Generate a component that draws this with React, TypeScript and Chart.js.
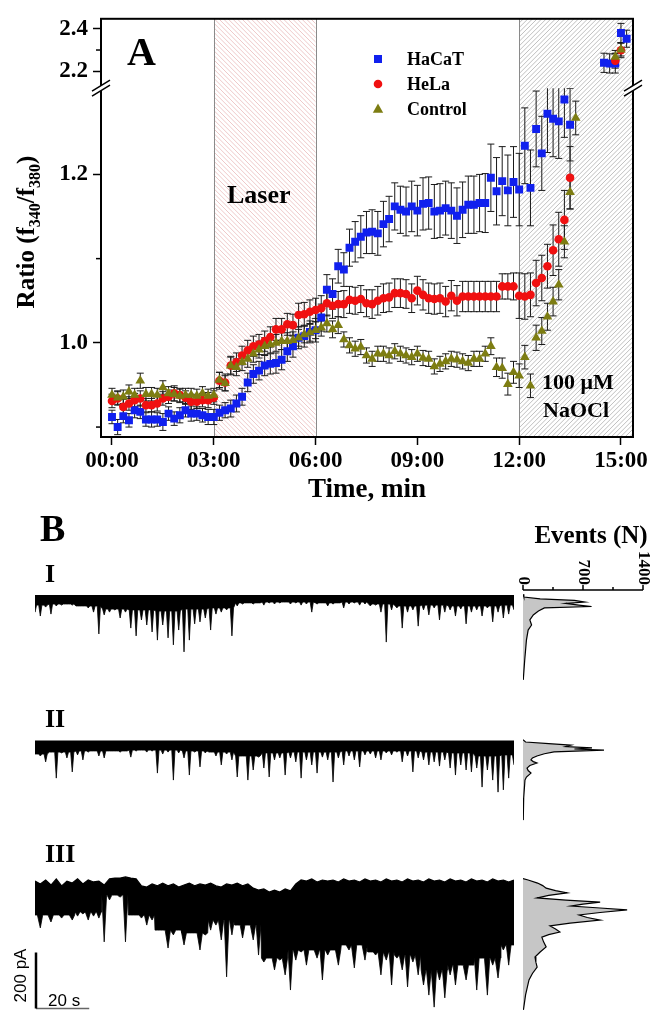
import React, { useEffect, useRef } from 'react';
import { Chart, registerables } from 'chart.js';

Chart.register(...registerables);

const SERIF = "'Liberation Serif', 'Times New Roman', Times, serif";
const SANS = "'Liberation Sans', Arial, Helvetica, sans-serif";

// ================= Panel A data =================
const SAMPLE_MIN = 1 / 6; // one frame every 10 s

const HACAT_MEAN = [
  0.912, 0.900, 0.913, 0.908, 0.920, 0.918, 0.909, 0.909, 0.909, 0.906,
  0.916, 0.910, 0.914, 0.920, 0.916, 0.916, 0.914, 0.912, 0.912, 0.917,
  0.920, 0.922, 0.928, 0.936, 0.953, 0.963, 0.967, 0.973, 0.975, 0.976,
  0.980, 0.990, 0.996, 1.006, 1.008, 1.013, 1.015, 1.030, 1.063, 1.058,
  1.091, 1.087, 1.113, 1.120, 1.126, 1.131, 1.132, 1.130, 1.141, 1.147,
  1.162, 1.158, 1.156, 1.162, 1.157, 1.165, 1.166, 1.156, 1.157, 1.160,
  1.157, 1.151, 1.158, 1.164, 1.164, 1.166, 1.166, 1.196, 1.180, 1.192,
  1.181, 1.191, 1.182, 1.234, 1.184, 1.254, 1.225, 1.272, 1.266, 1.263,
  1.289, 1.259,
];
const HACAT_SEM = [
  0.008, 0.009, 0.008, 0.008, 0.009, 0.008, 0.008, 0.009, 0.008, 0.010,
  0.008, 0.008, 0.009, 0.008, 0.009, 0.008, 0.008, 0.009, 0.009, 0.009,
  0.009, 0.010, 0.010, 0.010, 0.011, 0.011, 0.011, 0.012, 0.012, 0.012,
  0.012, 0.012, 0.013, 0.013, 0.013, 0.013, 0.014, 0.016, 0.018, 0.018,
  0.020, 0.020, 0.022, 0.024, 0.025, 0.025, 0.026, 0.026, 0.027, 0.027,
  0.028, 0.028, 0.029, 0.030, 0.030, 0.031, 0.031, 0.032, 0.032, 0.032,
  0.033, 0.033, 0.033, 0.034, 0.034, 0.034, 0.035, 0.040, 0.040, 0.041,
  0.042, 0.042, 0.043, 0.045, 0.045, 0.045, 0.044, 0.046, 0.045, 0.044,
  0.045, 0.043,
];
const HELA_MEAN = [
  0.931, 0.934, 0.924, 0.928, 0.932, 0.934, 0.926, 0.926, 0.928, 0.934,
  0.936, 0.940, 0.938, 0.935, 0.930, 0.930, 0.932, 0.932, 0.935, 0.955,
  0.953, 0.973, 0.977, 0.985, 0.991, 0.996, 0.998, 1.002, 1.007, 1.016,
  1.016, 1.022, 1.021, 1.033, 1.034, 1.037, 1.039, 1.041, 1.047, 1.044,
  1.046, 1.046, 1.051, 1.050, 1.052, 1.047, 1.046, 1.050, 1.053, 1.054,
  1.059, 1.059, 1.058, 1.053, 1.062, 1.057, 1.053, 1.052, 1.053, 1.049,
  1.056, 1.050, 1.055, 1.055, 1.055, 1.055, 1.055, 1.055, 1.055, 1.067,
  1.067, 1.067, 1.056, 1.055, 1.057, 1.071, 1.077, 1.091, 1.110, 1.123,
  1.146, 1.196,
];
const HELA_SEM = [
  0.008, 0.008, 0.009, 0.008, 0.008, 0.009, 0.008, 0.008, 0.009, 0.008,
  0.008, 0.009, 0.008, 0.008, 0.009, 0.008, 0.008, 0.009, 0.008, 0.010,
  0.010, 0.011, 0.011, 0.011, 0.012, 0.012, 0.012, 0.012, 0.012, 0.013,
  0.013, 0.013, 0.013, 0.014, 0.014, 0.014, 0.014, 0.015, 0.015, 0.015,
  0.015, 0.016, 0.016, 0.016, 0.016, 0.016, 0.017, 0.017, 0.017, 0.017,
  0.017, 0.017, 0.017, 0.017, 0.017, 0.018, 0.018, 0.018, 0.018, 0.018,
  0.018, 0.018, 0.018, 0.018, 0.018, 0.018, 0.018, 0.018, 0.018, 0.015,
  0.015, 0.016, 0.027, 0.027, 0.026, 0.027, 0.027, 0.026, 0.030, 0.032,
  0.035, 0.037,
];
const CONTROL_MEAN = [
  0.938, 0.935, 0.936, 0.942, 0.938, 0.955, 0.939, 0.939, 0.938, 0.947,
  0.940, 0.939, 0.937, 0.938, 0.938, 0.937, 0.940, 0.937, 0.938, 0.956,
  0.952, 0.973, 0.971, 0.977, 0.981, 0.987, 0.992, 0.996, 0.998, 1.000,
  1.002, 1.002, 1.003, 1.006, 1.010, 1.012, 1.015, 1.018, 1.023, 1.016,
  1.021, 1.004, 0.997, 0.993, 0.995, 0.985, 0.981, 0.987, 0.987, 0.985,
  0.990, 0.987, 0.985, 0.983, 0.987, 0.982, 0.981, 0.972, 0.975, 0.978,
  0.981, 0.980, 0.978, 0.976, 0.981, 0.981, 0.987, 0.996, 0.971, 0.970,
  0.951, 0.965, 0.961, 0.983, 0.949, 1.006, 1.014, 1.031, 1.049, 1.069,
  1.120, 1.179, 1.267,
];
const CONTROL_SEM = [
  0.008, 0.008, 0.008, 0.008, 0.008, 0.009, 0.008, 0.008, 0.008, 0.008,
  0.008, 0.008, 0.008, 0.008, 0.008, 0.008, 0.008, 0.008, 0.008, 0.009,
  0.009, 0.010, 0.010, 0.010, 0.010, 0.010, 0.010, 0.010, 0.010, 0.010,
  0.010, 0.010, 0.010, 0.010, 0.010, 0.010, 0.010, 0.010, 0.010, 0.010,
  0.010, 0.009, 0.009, 0.009, 0.009, 0.009, 0.009, 0.009, 0.009, 0.009,
  0.009, 0.009, 0.009, 0.009, 0.009, 0.009, 0.009, 0.009, 0.009, 0.009,
  0.009, 0.009, 0.009, 0.009, 0.009, 0.009, 0.009, 0.010, 0.011, 0.012,
  0.013, 0.013, 0.014, 0.014, 0.014, 0.015, 0.016, 0.016, 0.017, 0.018,
  0.019, 0.020, 0.020,
];

const HACAT_LATE_START = 14.5;
const HACAT_LATE_MEAN = [2.240, 2.237, 2.237, 2.380, 2.353];
const HACAT_LATE_SEM = [0.045, 0.045, 0.045, 0.045, 0.040];
const HELA_LATE_START = 14 + 5 / 6;
const HELA_LATE_MEAN = [2.250, 2.299];
const HELA_LATE_SEM = [0.035, 0.035];
const CONTROL_LATE_START = 14 + 5 / 6;
const CONTROL_LATE_MEAN = [2.268, 2.302];
const CONTROL_LATE_SEM = [0.030, 0.030];

const SERIES_NAMES = ['HaCaT', 'HeLa', 'Control'];
const TIME_TICKS = [0, 3, 6, 9, 12, 15];
const RATIO_LOW_TICKS = [0.9, 1.0, 1.1, 1.2];
const RATIO_HIGH_TICKS = [2.2, 2.3, 2.4];
const RATIO_LABELED = [1.0, 1.2, 2.2, 2.4];
const LASER_START = 3;
const LASER_END = 6;
const NAOCL_START = 12;

// ================= Panel B data =================
const TRACE_STEP_S = 2; // spike envelope sampling
const BODY_STEP_S = 10; // dense-noise body sampling
const TRACE_SPAN_S = 180;
// trace I: spike extremes (pA), dense body lower edge (pA), upper noise level (pA)
const TRACE_I_LOW = [
  -54, -68, -36, -61, -32, -29, -25, -29, -32, -25,
  -39, -54, -132, -64, -54, -46, -75, -54, -111, -139,
  -82, -100, -125, -154, -100, -146, -171, -118, -196, -154,
  -96, -89, -75, -118, -61, -54, -46, -139, -32, -25,
  -21, -25, -21, -29, -21, -25, -21, -18, -25, -21,
  -29, -25, -54, -25, -21, -32, -25, -21, -39, -25,
  -21, -29, -25, -32, -29, -54, -161, -46, -39, -111,
  -54, -46, -104, -46, -64, -39, -82, -54, -46, -68,
  -43, -96, -54, -46, -68, -39, -89, -54, -75, -61,
  -46,
];
const TRACE_I_BODY = [-29, -25, -32, -43, -46, -50, -43, -39, -21, -18, -18, -21, -18, -25, -32, -29, -32, -32, -29];
const TRACE_I_TOP = 7;
const TRACE_II_LOW = [
  -36, -50, -71, -36, -129, -39, -57, -107, -46, -64,
  -36, -32, -50, -57, -32, -29, -36, -29, -54, -32,
  -29, -36, -32, -111, -43, -36, -136, -39, -57, -118,
  -36, -89, -39, -36, -50, -82, -43, -64, -125, -50,
  -136, -100, -54, -93, -125, -64, -57, -118, -57, -71,
  -129, -64, -82, -111, -54, -64, -143, -57, -82, -50,
  -64, -89, -46, -43, -57, -64, -39, -46, -36, -71,
  -50, -107, -57, -64, -82, -71, -86, -64, -93, -118,
  -82, -100, -107, -93, -161, -100, -136, -179, -171, -129,
  -82,
];
const TRACE_II_BODY = [-43, -36, -32, -32, -29, -29, -32, -36, -50, -39, -36, -36, -32, -32, -32, -36, -39, -50, -46];
const TRACE_II_TOP = 5;
const TRACE_III_TOP = [
  -4, -14, 0, -18, 4, -21, -4, -11, 4, -14,
  0, -7, -4, -18, 4, 7, 7, 11, 7, 4,
  -21, -25, -14, -21, -11, -21, -14, -25, -18, -11,
  -21, -14, -18, -11, -21, -25, -14, -18, -11, -21,
  -14, -29, -36, -32, -43, -36, -43, -32, -39, -14,
  0, -4, 4, -7, 0, -4, 0, -7, 4, -4,
  0, -7, 4, -4, 0, -7, 4, -4, 0, -7,
  4, -4, 0, -7, 4, -4, 0, -7, 4, -4,
  0, -7, 4, -4, 0, -7, 4, -4, 0, -7,
  0,
];
const TRACE_III_LOW = [
  -125, -171, -114, -150, -125, -136, -114, -143, -129, -121,
  -143, -129, -136, -221, -71, -54, -61, -221, -54, -71,
  -136, -161, -143, -171, -179, -243, -196, -179, -232, -186,
  -179, -250, -196, -179, -161, -214, -346, -196, -125, -207,
  -114, -214, -268, -293, -279, -321, -286, -339, -393, -286,
  -257, -304, -250, -279, -357, -268, -232, -304, -221, -250,
  -314, -232, -286, -243, -268, -339, -286, -375, -279, -321,
  -382, -293, -339, -375, -411, -454, -357, -421, -339, -375,
  -286, -357, -304, -393, -279, -411, -304, -350, -250, -304,
  -207,
];
const TRACE_III_BODY = [-125, -125, -114, -54, -125, -179, -189, -143, -161, -279, -250, -250, -232, -257, -268, -321, -304, -279, -232];

// all-points amplitude histograms (current level pA -> number of events)
const HIST_I_LEVEL = [10, 0, -7, -12, -18, -23, -29, -34, -39, -50, -64, -82, -100, -118, -154, -225, -296];
const HIST_I_COUNT = [0, 10, 200, 600, 720, 500, 650, 800, 250, 180, 120, 80, 100, 60, 40, 20, 3];
const HIST_II_LEVEL = [8, 0, -6, -11, -16, -21, -25, -29, -35, -42, -50, -57, -64, -70, -75, -84, -93, -102, -111, -125, -136, -200, -279];
const HIST_II_COUNT = [0, 30, 300, 560, 500, 805, 600, 945, 362, 250, 163, 110, 93, 120, 163, 80, 47, 60, 93, 40, 23, 8, 3];
const HIST_III_LEVEL = [5, 0, -11, -20, -29, -38, -46, -55, -64, -72, -79, -86, -93, -100, -107, -116, -125, -134, -143, -154, -164, -175, -186, -195, -204, -221, -239, -257, -275, -293, -311, -334, -357, -410, -464];
const HIST_III_COUNT = [0, 60, 170, 230, 270, 380, 515, 300, 165, 500, 900, 700, 560, 900, 1215, 900, 655, 750, 900, 550, 315, 380, 430, 300, 220, 240, 270, 200, 140, 150, 165, 110, 70, 30, 5];
const HIST_TICKS = [0, 350, 700, 1050, 1400];
const HIST_LABELED = [0, 700, 1400];
const SCALE_BAR_PA = 200;
const SCALE_BAR_S = 20;

// ================= styles / layout =================
const BLUE = '#1020ee';
const RED = '#f01010';
const OLIVE = '#7d7d12';
const PX_PER_PA = 0.28;

function near(list: number[], v: number) {
  return list.some((t) => Math.abs(t - v) < 1e-6);
}

function drawMarker(ctx: any, style: string, x: number, y: number, color: string) {
  ctx.fillStyle = color;
  ctx.beginPath();
  if (style === 'rect') ctx.rect(x - 4, y - 4, 8, 8);
  else if (style === 'circle') ctx.arc(x, y, 4.3, 0, Math.PI * 2);
  else {
    ctx.moveTo(x, y - 5.5);
    ctx.lineTo(x + 5.2, y + 3.8);
    ctx.lineTo(x - 5.2, y + 3.8);
    ctx.closePath();
  }
  ctx.fill();
}

const panelAPlugin = {
  id: 'panelA',
  beforeDatasetsDraw(chart: any) {
    const { ctx, chartArea: a, scales } = chart;
    const xs = scales.x;
    ctx.save();
    // laser hatch
    const lx0 = xs.getPixelForValue(LASER_START);
    const lx1 = xs.getPixelForValue(LASER_END);
    ctx.save();
    ctx.beginPath();
    ctx.rect(lx0, a.top, lx1 - lx0, a.height);
    ctx.clip();
    ctx.strokeStyle = 'rgba(215,130,130,0.55)';
    ctx.lineWidth = 0.8;
    ctx.beginPath();
    for (let s = lx0 - a.height; s < lx1 + 5; s += 4.6) {
      ctx.moveTo(s, a.top);
      ctx.lineTo(s + a.height, a.bottom);
    }
    ctx.stroke();
    ctx.restore();
    // NaOCl hatch
    const nx0 = xs.getPixelForValue(NAOCL_START);
    ctx.save();
    ctx.beginPath();
    ctx.rect(nx0, a.top, a.right - nx0, a.height);
    ctx.clip();
    ctx.strokeStyle = 'rgba(120,120,120,0.6)';
    ctx.lineWidth = 0.8;
    ctx.beginPath();
    for (let s = nx0 - 5; s < a.right + a.height; s += 4.6) {
      ctx.moveTo(s, a.top);
      ctx.lineTo(s - a.height, a.bottom);
    }
    ctx.stroke();
    ctx.restore();
    // region borders
    ctx.strokeStyle = '#8a8a8a';
    ctx.lineWidth = 1;
    ctx.beginPath();
    [lx0, lx1, nx0].forEach((x) => {
      ctx.moveTo(Math.round(x) + 0.5, a.top);
      ctx.lineTo(Math.round(x) + 0.5, a.bottom);
    });
    ctx.stroke();
    // error bars
    chart.data.datasets.forEach((d: any) => {
      const ys = scales[d.yAxisID];
      ctx.save();
      ctx.beginPath();
      ctx.rect(a.left, ys.top, a.width, ys.bottom - ys.top);
      ctx.clip();
      ctx.strokeStyle = '#1a1a1a';
      ctx.lineWidth = 1;
      ctx.beginPath();
      d.data.forEach((p: any, i: number) => {
        const e = d.sem[i];
        const x = xs.getPixelForValue(p.x);
        const y1 = ys.getPixelForValue(p.y + e);
        const y2 = ys.getPixelForValue(p.y - e);
        ctx.moveTo(x, y1);
        ctx.lineTo(x, y2);
        ctx.moveTo(x - 3.5, y1);
        ctx.lineTo(x + 3.5, y1);
        ctx.moveTo(x - 3.5, y2);
        ctx.lineTo(x + 3.5, y2);
      });
      ctx.stroke();
      ctx.restore();
    });
    ctx.restore();
  },
  afterDraw(chart: any) {
    const { ctx, chartArea: a, scales } = chart;
    ctx.save();
    // frame
    ctx.strokeStyle = '#000';
    ctx.lineWidth = 2;
    ctx.strokeRect(a.left, a.top, a.width, a.height);
    // minor ticks
    ctx.lineWidth = 1.5;
    ['yLow', 'yHigh'].forEach((id) => {
      const s = scales[id];
      s.ticks.forEach((t: any) => {
        if (!near(RATIO_LABELED, t.value)) {
          const y = s.getPixelForValue(t.value);
          ctx.beginPath();
          ctx.moveTo(a.left - 5, y);
          ctx.lineTo(a.left, y);
          ctx.stroke();
        }
      });
    });
    // axis breaks
    const yb = scales.yHigh.bottom;
    [a.left, a.right].forEach((x0) => {
      ctx.fillStyle = '#fff';
      ctx.beginPath();
      ctx.moveTo(x0 - 9, yb + 3);
      ctx.lineTo(x0 + 9, yb - 8);
      ctx.lineTo(x0 + 9, yb - 3);
      ctx.lineTo(x0 - 9, yb + 8);
      ctx.closePath();
      ctx.fill();
      ctx.strokeStyle = '#000';
      ctx.lineWidth = 1.5;
      ctx.beginPath();
      ctx.moveTo(x0 - 9, yb + 3);
      ctx.lineTo(x0 + 9, yb - 8);
      ctx.moveTo(x0 - 9, yb + 8);
      ctx.lineTo(x0 + 9, yb - 3);
      ctx.stroke();
    });
    // panel letter & annotations
    ctx.fillStyle = '#000';
    ctx.textBaseline = 'alphabetic';
    ctx.textAlign = 'left';
    ctx.font = `bold 40px ${SERIF}`;
    ctx.fillText('A', 127, 65);
    ctx.font = `bold 26px ${SERIF}`;
    ctx.fillText('Laser', 227, 203);
    ctx.font = `bold 22px ${SERIF}`;
    ctx.fillText('100 \u03BCM', 542, 389);
    ctx.fillText('NaOCl', 543, 417);
    // legend
    const styles = ['rect', 'circle', 'triangle'];
    const colors = [BLUE, RED, OLIVE];
    ctx.font = `bold 18px ${SERIF}`;
    SERIES_NAMES.forEach((n, i) => {
      const y = 59 + i * 25;
      drawMarker(ctx, styles[i], 378, y, colors[i]);
      ctx.fillStyle = '#000';
      ctx.fillText(n, 407, y + 6);
    });
    // x title
    ctx.textAlign = 'center';
    ctx.font = `bold 27px ${SERIF}`;
    ctx.fillText('Time, min', (a.left + a.right) / 2, 497);
    // y title with subscripts
    ctx.save();
    ctx.translate(34, 232);
    ctx.rotate(-Math.PI / 2);
    const main = `bold 25px ${SERIF}`;
    const sub = `bold 16px ${SERIF}`;
    const parts: [string, boolean][] = [['Ratio (f', false], ['340', true], ['/f', false], ['380', true], [')', false]];
    let total = 0;
    parts.forEach(([t, s]) => {
      ctx.font = s ? sub : main;
      total += ctx.measureText(t).width;
    });
    let x = -total / 2;
    ctx.textAlign = 'left';
    parts.forEach(([t, s]) => {
      ctx.font = s ? sub : main;
      ctx.fillText(t, x, s ? 6 : 0);
      x += ctx.measureText(t).width;
    });
    ctx.restore();
    ctx.restore();
  },
};

function seriesPoints(vals: number[], start: number) {
  return vals.map((v, i) => ({ x: start + i * SAMPLE_MIN, y: v }));
}

function makePanelA(): any {
  const mk = (label: string, vals: number[], sem: number[], start: number, axis: string, style: string, color: string, r: number) => ({
    label,
    data: seriesPoints(vals, start),
    sem,
    yAxisID: axis,
    pointStyle: style,
    pointRadius: r,
    pointBackgroundColor: color,
    pointBorderColor: color,
    pointBorderWidth: 0,
    showLine: false,
  });
  const tickFont = { family: SERIF, size: 23, weight: 'bold' as const };
  const yCommon = (ticks: number[], min: number, max: number, stackWeight: number, weight: number) => ({
    type: 'linear',
    position: 'left',
    stack: 'ratio',
    stackWeight,
    weight,
    min,
    max,
    afterFit: (s: any) => {
      s.width = 101;
    },
    afterBuildTicks: (s: any) => {
      s.ticks = ticks.map((v) => ({ value: v }));
    },
    ticks: {
      font: tickFont,
      color: '#000',
      padding: 5,
      autoSkip: false,
      callback: (v: number) => (near(RATIO_LABELED, v) ? v.toFixed(1) : ''),
    },
    grid: {
      drawOnChartArea: false,
      tickLength: 8,
      tickWidth: 1.5,
      tickColor: (c: any) => (c.tick && near(RATIO_LABELED, c.tick.value) ? '#000' : 'rgba(0,0,0,0)'),
    },
    border: { color: '#000', width: 2 },
  });
  return {
    type: 'scatter',
    data: {
      datasets: [
        mk('Control', CONTROL_MEAN, CONTROL_SEM, 0, 'yLow', 'triangle', OLIVE, 5.6),
        mk('Control', CONTROL_LATE_MEAN, CONTROL_LATE_SEM, CONTROL_LATE_START, 'yHigh', 'triangle', OLIVE, 5.6),
        mk('HeLa', HELA_MEAN, HELA_SEM, 0, 'yLow', 'circle', RED, 4.3),
        mk('HeLa', HELA_LATE_MEAN, HELA_LATE_SEM, HELA_LATE_START, 'yHigh', 'circle', RED, 4.3),
        mk('HaCaT', HACAT_MEAN, HACAT_SEM, 0, 'yLow', 'rect', BLUE, 5.6),
        mk('HaCaT', HACAT_LATE_MEAN, HACAT_LATE_SEM, HACAT_LATE_START, 'yHigh', 'rect', BLUE, 5.6),
      ],
    },
    options: {
      animation: false,
      responsive: false,
      maintainAspectRatio: false,
      layout: { padding: { left: 0, top: 15, right: 18, bottom: 0 } },
      plugins: { legend: { display: false }, tooltip: { enabled: false } },
      scales: {
        x: {
          type: 'linear',
          min: -0.324,
          max: 15.355,
          afterFit: (s: any) => {
            s.height = 73;
          },
          afterBuildTicks: (s: any) => {
            s.ticks = TIME_TICKS.map((v) => ({ value: v }));
          },
          ticks: {
            font: tickFont,
            color: '#000',
            padding: 2,
            maxRotation: 0,
            autoSkip: false,
            callback: (v: number) => `${String(v).padStart(2, '0')}:00`,
          },
          grid: { drawOnChartArea: false, tickLength: 8, tickWidth: 1.5, tickColor: '#000' },
          border: { color: '#000', width: 2 },
        },
        yLow: yCommon(RATIO_LOW_TICKS, 0.8882, 1.3024, 352, 0),
        yHigh: yCommon(RATIO_HIGH_TICKS, 2.121, 2.4465, 70, 1),
      },
    },
    plugins: [panelAPlugin],
  };
}

// ---------------- Panel B ----------------
type Row = { canvasTop: number; areaTop: number; areaBottom: number; zero: number };
const ROW_I: Row = { canvasTop: 500, areaTop: 583, areaBottom: 685, zero: 597 };
const ROW_II: Row = { canvasTop: 690, areaTop: 728, areaBottom: 828, zero: 742 };
const ROW_III: Row = { canvasTop: 830, areaTop: 866, areaBottom: 1010, zero: 880 };

function rowRange(top: number, bottom: number, zero: number) {
  return { max: (zero - top) / PX_PER_PA, min: -(bottom - zero) / PX_PER_PA };
}

// lower edge of a trace: dense body with a narrow spike at every sample
function spikeLine(low: number[], body: number[], halfWidthS: number) {
  const pts: { x: number; y: number }[] = [];
  low.forEach((v, k) => {
    const t = k * TRACE_STEP_S;
    const b = body[Math.round(t / BODY_STEP_S)];
    pts.push({ x: t - halfWidthS, y: b });
    pts.push({ x: t, y: Math.min(v, b) });
    pts.push({ x: t + halfWidthS, y: b });
  });
  return pts;
}

function makeTrace(row: Row, low: number[], body: number[], top: number | number[], halfWidthS: number, labelPlugin: any): any {
  const r = rowRange(row.areaTop, row.areaBottom, row.zero);
  const base = { borderColor: '#000', borderWidth: 0.8, pointRadius: 0, tension: 0 };
  const edge = spikeLine(low, body, halfWidthS);
  const datasets: any[] = Array.isArray(top)
    ? [
        { ...base, borderWidth: 1.2, data: top.map((v, k) => ({ x: k * TRACE_STEP_S, y: v })), fill: false },
        { ...base, data: edge, fill: '-1', backgroundColor: '#000' },
      ]
    : [{ ...base, data: edge, fill: { value: top }, backgroundColor: '#000' }];
  return {
    type: 'line',
    data: { datasets },
    options: {
      animation: false,
      responsive: false,
      maintainAspectRatio: false,
      layout: { padding: { left: 35, right: 2, top: row.areaTop - row.canvasTop, bottom: 0 } },
      plugins: { legend: { display: false }, tooltip: { enabled: false } },
      scales: {
        x: { type: 'linear', min: 0, max: TRACE_SPAN_S, display: false },
        y: { type: 'linear', min: r.min, max: r.max, display: false },
      },
    },
    plugins: [labelPlugin],
  };
}

function labelPlugin(id: string, texts: [string, number, number, number][], extra?: (chart: any) => void) {
  return {
    id,
    afterDraw(chart: any) {
      const ctx = chart.ctx;
      ctx.save();
      ctx.fillStyle = '#000';
      ctx.textAlign = 'left';
      ctx.textBaseline = 'alphabetic';
      texts.forEach(([t, x, y, size]) => {
        ctx.font = `bold ${size}px ${SERIF}`;
        ctx.fillText(t, x, y);
      });
      if (extra) extra(chart);
      ctx.restore();
    },
  };
}

const scaleBarDraw = (chart: any) => {
  const { ctx, chartArea: a, scales } = chart;
  const xs = scales.x;
  const ys = scales.y;
  const x0 = xs.getPixelForValue(0) + 1;
  const yb = a.bottom - 1.5;
  const h = ys.getPixelForValue(0) - ys.getPixelForValue(SCALE_BAR_PA);
  const w = xs.getPixelForValue(SCALE_BAR_S) - xs.getPixelForValue(0);
  ctx.strokeStyle = '#666';
  ctx.lineWidth = 1.5;
  ctx.beginPath();
  ctx.moveTo(x0, yb);
  ctx.lineTo(x0 + w, yb);
  ctx.stroke();
  ctx.strokeStyle = '#000';
  ctx.lineWidth = 2.5;
  ctx.beginPath();
  ctx.moveTo(x0, yb);
  ctx.lineTo(x0, yb - h);
  ctx.stroke();
  ctx.fillStyle = '#000';
  ctx.font = `17px ${SANS}`;
  ctx.textAlign = 'left';
  ctx.fillText(`${SCALE_BAR_S} s`, x0 + 12, yb - 3);
  ctx.save();
  ctx.translate(x0 - 10, yb - h / 2 - 5);
  ctx.rotate(-Math.PI / 2);
  ctx.textAlign = 'center';
  ctx.fillText(`${SCALE_BAR_PA} pA`, 0, 0);
  ctx.restore();
};

const HIST_LEFT = 510;
const HIST_AREA_LEFT = 523;
const HIST_WIDTH = 141;
const HIST_PX_1400 = 120;

const histAxisPlugin = {
  id: 'histAxis',
  afterDraw(chart: any) {
    const { ctx, chartArea: a, scales } = chart;
    const xs = scales.x;
    const y = a.top;
    ctx.save();
    ctx.strokeStyle = '#000';
    ctx.lineWidth = 1.5;
    ctx.beginPath();
    ctx.moveTo(xs.getPixelForValue(0), y);
    ctx.lineTo(xs.getPixelForValue(1400), y);
    HIST_TICKS.forEach((t) => {
      const x = xs.getPixelForValue(t);
      const len = near(HIST_LABELED, t) ? 5 : 3;
      ctx.moveTo(x, y);
      ctx.lineTo(x, y - len);
    });
    ctx.stroke();
    ctx.fillStyle = '#000';
    ctx.font = `bold 17px ${SERIF}`;
    HIST_LABELED.forEach((t) => {
      const x = xs.getPixelForValue(t);
      ctx.save();
      ctx.translate(x, y - 5);
      ctx.rotate(Math.PI / 2);
      ctx.textAlign = 'right';
      ctx.textBaseline = 'middle';
      ctx.fillText(String(t), 0, 0);
      ctx.restore();
    });
    ctx.font = `bold 25px ${SERIF}`;
    ctx.textAlign = 'center';
    ctx.textBaseline = 'alphabetic';
    ctx.fillText('Events (N)', 591 - HIST_LEFT, 543 - ROW_I.canvasTop);
    ctx.restore();
  },
};

function makeHist(row: Row, levels: number[], counts: number[], areaTop: number, withAxis: boolean): any {
  const r = rowRange(areaTop, row.areaBottom, row.zero);
  const areaW = HIST_LEFT + HIST_WIDTH - HIST_AREA_LEFT;
  return {
    type: 'line',
    data: {
      datasets: [
        {
          data: levels.map((l, i) => ({ x: counts[i], y: l })),
          fill: { value: 0 },
          backgroundColor: '#c6c6c6',
          borderColor: '#000',
          borderWidth: 1.2,
          pointRadius: 0,
          tension: 0,
        },
      ],
    },
    options: {
      indexAxis: 'y',
      animation: false,
      responsive: false,
      maintainAspectRatio: false,
      layout: { padding: { left: HIST_AREA_LEFT - HIST_LEFT, right: 0, top: areaTop - row.canvasTop, bottom: 0 } },
      plugins: { legend: { display: false }, tooltip: { enabled: false } },
      scales: {
        x: { type: 'linear', min: 0, max: (areaW / HIST_PX_1400) * 1400, display: false },
        y: { type: 'linear', min: r.min, max: r.max, display: false },
      },
    },
    plugins: withAxis ? [histAxisPlugin] : [],
  };
}

function ChartBox({ x, y, w, h, make }: { x: number; y: number; w: number; h: number; make: () => any }) {
  const ref = useRef<HTMLCanvasElement>(null);
  useEffect(() => {
    const chart = new Chart(ref.current as HTMLCanvasElement, make());
    return () => chart.destroy();
  }, []);
  return (
    <canvas
      ref={ref}
      width={w}
      height={h}
      style={{ position: 'absolute', left: x, top: y, width: w, height: h }}
    />
  );
}

export default function App() {
  const rowH = (r: Row) => r.areaBottom - r.canvasTop;
  return (
    <div style={{ position: 'absolute', left: 0, top: 0, width: 651, height: 1010, background: '#fff', overflow: 'hidden' }}>
      <ChartBox x={0} y={0} w={651} h={510} make={makePanelA} />
      <ChartBox
        x={0}
        y={ROW_I.canvasTop}
        w={516}
        h={rowH(ROW_I)}
        make={() => makeTrace(ROW_I, TRACE_I_LOW, TRACE_I_BODY, TRACE_I_TOP, 0.6, labelPlugin('lblI', [['B', 40, 41, 38], ['I', 45, 82, 26]]))}
      />
      <ChartBox
        x={0}
        y={ROW_II.canvasTop}
        w={516}
        h={rowH(ROW_II)}
        make={() => makeTrace(ROW_II, TRACE_II_LOW, TRACE_II_BODY, TRACE_II_TOP, 0.6, labelPlugin('lblII', [['II', 45, 37, 26]]))}
      />
      <ChartBox
        x={0}
        y={ROW_III.canvasTop}
        w={516}
        h={rowH(ROW_III)}
        make={() => makeTrace(ROW_III, TRACE_III_LOW, TRACE_III_BODY, TRACE_III_TOP, 0.9, labelPlugin('lblIII', [['III', 45, 32, 26]], scaleBarDraw))}
      />
      <ChartBox x={HIST_LEFT} y={ROW_I.canvasTop} w={HIST_WIDTH} h={rowH(ROW_I)} make={() => makeHist(ROW_I, HIST_I_LEVEL, HIST_I_COUNT, 590, true)} />
      <ChartBox x={HIST_LEFT} y={ROW_II.canvasTop} w={HIST_WIDTH} h={rowH(ROW_II)} make={() => makeHist(ROW_II, HIST_II_LEVEL, HIST_II_COUNT, ROW_II.areaTop, false)} />
      <ChartBox x={HIST_LEFT} y={ROW_III.canvasTop} w={HIST_WIDTH} h={rowH(ROW_III)} make={() => makeHist(ROW_III, HIST_III_LEVEL, HIST_III_COUNT, ROW_III.areaTop, false)} />
    </div>
  );
}
